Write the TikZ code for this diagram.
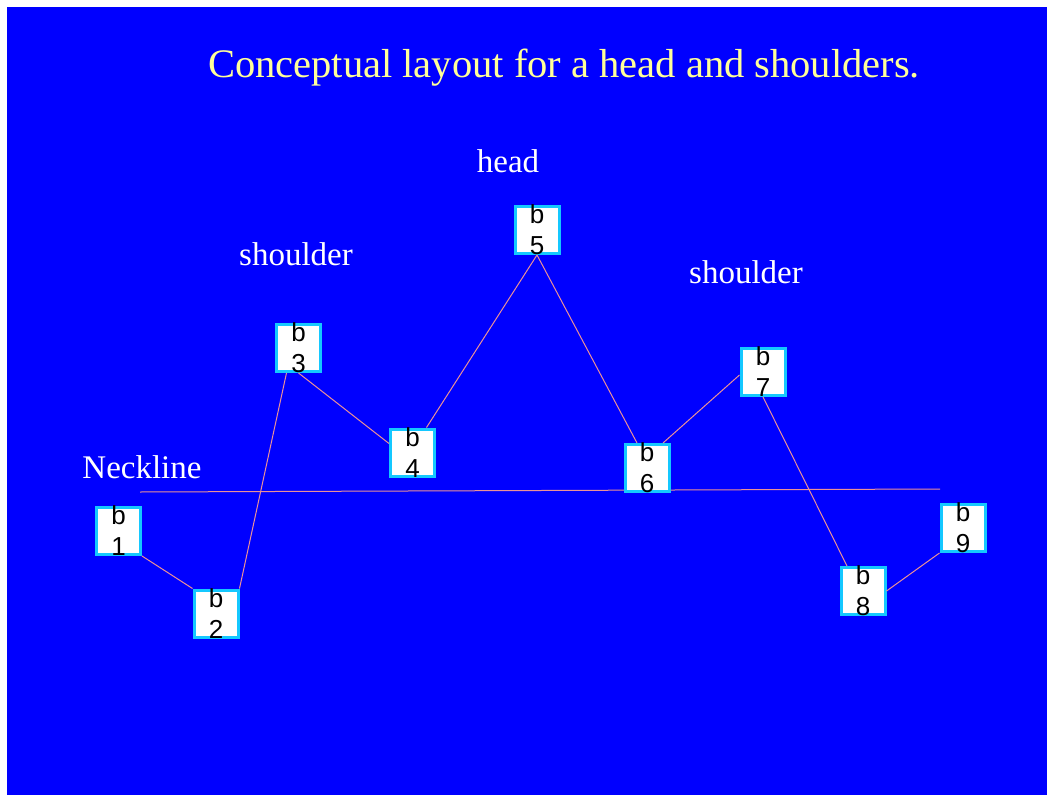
\documentclass[tikz,border=0pt]{standalone}
\usepackage{fontspec}
\setmainfont{Liberation Serif}
\newfontfamily\boxfont{Liberation Sans}
\usetikzlibrary{calc}
\definecolor{bgblue}{RGB}{0,0,255}
\definecolor{titleyellow}{RGB}{255,255,153}
\definecolor{boxcyan}{RGB}{20,200,255}
\definecolor{linkcol}{RGB}{235,145,150}
\tikzset{
  bbox/.style={draw=boxcyan, fill=white, line width=3pt, minimum width=44pt, minimum height=47pt, inner sep=0pt},
  blbl/.style={font=\boxfont\fontsize{26}{31}\selectfont, text=black, align=center, inner sep=0pt},
  link/.style={draw=linkcol, line width=1pt},
  wlabel/.style={font=\fontsize{33}{36}\selectfont, text=white, anchor=base, inner sep=0pt},
}
\begin{document}
\begin{tikzpicture}[x=1pt,y=-1pt]
\useasboundingbox (0,0) rectangle (1047,795);
\fill[white] (0,0) rectangle (1047,795);
\fill[bgblue] (7,7) rectangle (1047,795);
\node[font=\fontsize{40.5}{44}\selectfont, text=titleyellow, anchor=base, inner sep=0pt] (title) at (564,77) {Conceptual layout for a head and shoulders.};
\node[wlabel] (head) at (508,172) {head};
\node[wlabel] (shl) at (296,265) {shoulder};
\node[wlabel] (shr) at (746,283) {shoulder};
\node[wlabel] (neck) at (142,478) {Neckline};
\coordinate (nl) at (140,492);
\coordinate (nr) at (940,489);
\draw[link] (nl) -- (nr);
\foreach \n/\x/\y in {1/118.5/531, 2/216/613.5, 3/298.5/348, 4/412.5/452.5, 5/537/230, 6/647/468, 7/763/372, 8/863/591, 9/963/528}{
  \node[bbox, label={[blbl]center:{b\\\n}}] (b\n) at (\x,\y) {};
}
\draw[link] (b1.south east) -- (b2.north west);
\draw[link] (b2.north east) -- ($(b3.south)+(-12,0)$);
\draw[link] (b3.south) -- ($(b4.west)+(0,-9)$);
\draw[link] ($(b4.north)+(14,0)$) -- (b5.south);
\draw[link] (b5.south) -- ($(b6.north)+(-10,0)$);
\draw[link] ($(b6.north)+(16,0)$) -- ($(b7.west)+(0,3)$);
\draw[link] (b7.south) -- ($(b8.north)+(-16,0)$);
\draw[link] (b8.east) -- (b9.south west);
\end{tikzpicture}
\end{document}
